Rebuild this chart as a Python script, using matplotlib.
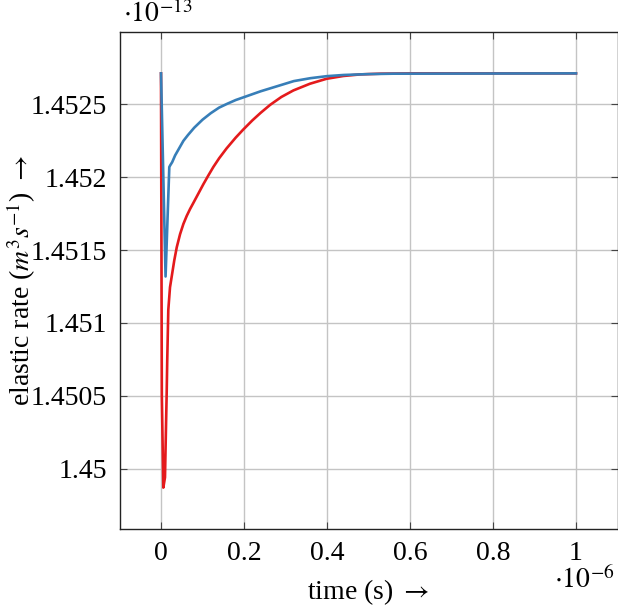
import matplotlib
matplotlib.use("Agg")
import matplotlib.pyplot as plt
from matplotlib.ticker import FuncFormatter

plt.rcParams['font.family'] = ['Liberation Serif', 'DejaVu Serif']
plt.rcParams['mathtext.fontset'] = 'stix'
plt.rcParams['font.size'] = 20

# time in units of 1e-6 s, rate in units of 1e-13 m^3/s
t_red = [0, 0.002, 0.0056, 0.0096, 0.012, 0.0137, 0.015, 0.0176, 0.0217, 0.032,
         0.038, 0.046, 0.054, 0.062, 0.07, 0.078, 0.09, 0.102, 0.114, 0.126,
         0.14, 0.158, 0.18, 0.198, 0.22, 0.24, 0.263, 0.29, 0.319, 0.359,
         0.399, 0.439, 0.48, 0.53, 0.6, 1.0]
rate_red = [1.452713, 1.4505, 1.44987, 1.44994, 1.450284, 1.45052, 1.45074, 1.45109, 1.451245, 1.45143,
            1.45152, 1.45161, 1.45168, 1.451735, 1.451782, 1.451824, 1.451888, 1.451952, 1.452012, 1.45207,
            1.45213, 1.452198, 1.452272, 1.452327, 1.45239, 1.452442, 1.452497, 1.452551, 1.452596, 1.452642,
            1.452676, 1.452695, 1.452706, 1.452711, 1.452713, 1.452713]

t_blue = [0, 0.011, 0.020, 0.022, 0.027, 0.034, 0.045, 0.054, 0.065, 0.08,
          0.1, 0.12, 0.14, 0.16, 0.18, 0.2, 0.24, 0.28, 0.32, 0.36,
          0.4, 0.44, 0.5, 0.56, 1.0]
rate_blue = [1.452713, 1.451319, 1.452070, 1.452081, 1.452104, 1.45215, 1.452205, 1.45225, 1.45229, 1.45234,
             1.452395, 1.45244, 1.452478, 1.452505, 1.45253, 1.45255, 1.45259, 1.452625, 1.45266, 1.45268,
             1.452694, 1.452702, 1.452708, 1.452711, 1.452713]

x_ticks = [0, 0.2, 0.4, 0.6, 0.8, 1.0]
y_ticks = [1.45, 1.4505, 1.451, 1.4515, 1.452, 1.4525]

fig = plt.figure(figsize=(6.18, 6.14), dpi=100)
ax = fig.add_axes([119.5 / 618, 85 / 614, 498 / 618, 497 / 614])

ax.plot(t_red, rate_red, color='#e41a1c', lw=1.9)
ax.plot(t_blue, rate_blue, color='#377eb8', lw=1.9)

ax.set_xlim(-0.1, 1.1)
ax.set_ylim(1.449586, 1.452997)
ax.set_xticks(x_ticks)
ax.set_yticks(y_ticks)
fmt = FuncFormatter(lambda v, p: '%g' % round(v, 6))
ax.xaxis.set_major_formatter(fmt)
ax.yaxis.set_major_formatter(fmt)

ax.grid(True, color='#c4c4c4', lw=1)
ax.set_axisbelow(True)
ax.tick_params(direction='in', length=5, width=0.8, color='#444444',
               top=True, right=True, pad=9)
for s in ax.spines.values():
    s.set_color('#222222')
    s.set_linewidth(1.0)

ax.set_xlabel(r'time (s) $\rightarrow$', labelpad=8)
ax.set_ylabel(r'elastic rate ($m^3s^{-1}$) $\rightarrow$')
ax.yaxis.set_label_coords(-0.163, 0.5)

fig.text(123 / 618, 1 - 14 / 614, r'$\cdot 10^{-13}$', ha='left', va='center', fontsize=20)
fig.text(615 / 618, 1 - 580 / 614, r'$\cdot 10^{-6}$', ha='right', va='center', fontsize=20)

fig.savefig('out.png', dpi=100)
